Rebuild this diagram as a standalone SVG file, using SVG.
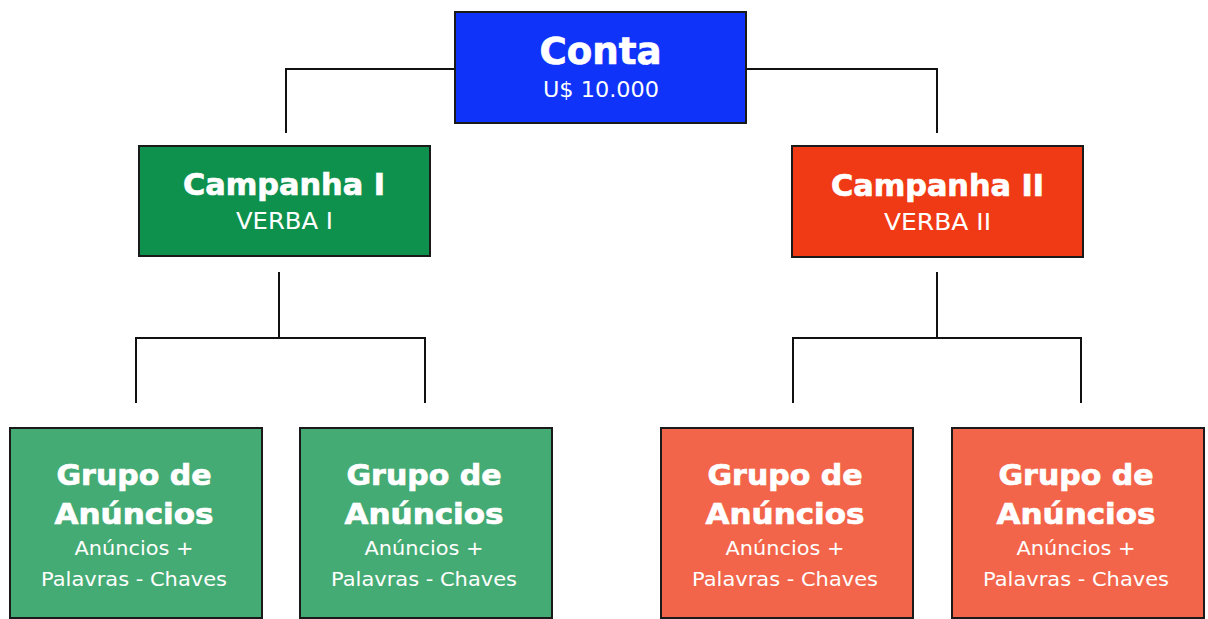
<svg xmlns="http://www.w3.org/2000/svg" width="1208" height="619" viewBox="0 0 1208 619">
<style>
.box{stroke:#1a1a1a;stroke-width:2}
.t{font-family:"DejaVu Sans","Liberation Sans",sans-serif;fill:#fff;text-anchor:middle}
.b{font-weight:bold;stroke:#fff;stroke-width:0.7}
.conn{fill:none;stroke:#111;stroke-width:2}
</style>
<rect width="1208" height="619" fill="#fff"/>
<g id="connectors">
<polyline class="conn" points="454,69 286,69 286,133"/>
<polyline class="conn" points="746,69 937,69 937,133"/>
<line class="conn" x1="279" y1="272" x2="279" y2="338"/>
<polyline class="conn" points="136,403 136,338 425,338 425,403"/>
<line class="conn" x1="937" y1="272" x2="937" y2="338"/>
<polyline class="conn" points="793,403 793,338 1081,338 1081,403"/>
</g>
<g id="conta">
<rect class="box" x="455" y="12" width="291" height="111" fill="#1033fa"/>
<text class="t b" x="600.5" y="64" font-size="37" textLength="122" lengthAdjust="spacingAndGlyphs">Conta</text>
<text class="t" x="601" y="97" font-size="22" textLength="116" lengthAdjust="spacingAndGlyphs">U$ 10.000</text>
</g>
<g id="campanha1">
<rect class="box" x="139" y="146" width="291" height="110" fill="#0f914e"/>
<text class="t b" x="284" y="195" font-size="30" textLength="202" lengthAdjust="spacingAndGlyphs">Campanha I</text>
<text class="t" x="284.5" y="229" font-size="23" textLength="97" lengthAdjust="spacingAndGlyphs">VERBA I</text>
</g>
<g id="campanha2">
<rect class="box" x="792" y="146" width="291" height="111" fill="#f03a15"/>
<text class="t b" x="937.5" y="196" font-size="30" textLength="213" lengthAdjust="spacingAndGlyphs">Campanha II</text>
<text class="t" x="937.5" y="230" font-size="23" textLength="107" lengthAdjust="spacingAndGlyphs">VERBA II</text>
</g>
<g id="grupo1">
<rect class="box" x="10" y="428" width="252" height="190" fill="#45ab74"/>
<text class="t b" x="134" y="485" font-size="28" textLength="155" lengthAdjust="spacingAndGlyphs">Grupo de</text>
<text class="t b" x="134" y="524" font-size="28" textLength="159" lengthAdjust="spacingAndGlyphs">Anúncios</text>
<text class="t" x="134" y="555" font-size="19.5" textLength="119" lengthAdjust="spacingAndGlyphs">Anúncios +</text>
<text class="t" x="134" y="586" font-size="19.5" textLength="186" lengthAdjust="spacingAndGlyphs">Palavras - Chaves</text>
</g>
<g id="grupo2">
<rect class="box" x="300" y="428" width="252" height="190" fill="#45ab74"/>
<text class="t b" x="424" y="485" font-size="28" textLength="155" lengthAdjust="spacingAndGlyphs">Grupo de</text>
<text class="t b" x="424" y="524" font-size="28" textLength="159" lengthAdjust="spacingAndGlyphs">Anúncios</text>
<text class="t" x="424" y="555" font-size="19.5" textLength="119" lengthAdjust="spacingAndGlyphs">Anúncios +</text>
<text class="t" x="424" y="586" font-size="19.5" textLength="186" lengthAdjust="spacingAndGlyphs">Palavras - Chaves</text>
</g>
<g id="grupo3">
<rect class="box" x="661" y="428" width="252" height="190" fill="#f2654a"/>
<text class="t b" x="785" y="485" font-size="28" textLength="155" lengthAdjust="spacingAndGlyphs">Grupo de</text>
<text class="t b" x="785" y="524" font-size="28" textLength="159" lengthAdjust="spacingAndGlyphs">Anúncios</text>
<text class="t" x="785" y="555" font-size="19.5" textLength="119" lengthAdjust="spacingAndGlyphs">Anúncios +</text>
<text class="t" x="785" y="586" font-size="19.5" textLength="186" lengthAdjust="spacingAndGlyphs">Palavras - Chaves</text>
</g>
<g id="grupo4">
<rect class="box" x="952" y="428" width="252" height="190" fill="#f2654a"/>
<text class="t b" x="1076" y="485" font-size="28" textLength="155" lengthAdjust="spacingAndGlyphs">Grupo de</text>
<text class="t b" x="1076" y="524" font-size="28" textLength="159" lengthAdjust="spacingAndGlyphs">Anúncios</text>
<text class="t" x="1076" y="555" font-size="19.5" textLength="119" lengthAdjust="spacingAndGlyphs">Anúncios +</text>
<text class="t" x="1076" y="586" font-size="19.5" textLength="186" lengthAdjust="spacingAndGlyphs">Palavras - Chaves</text>
</g>
</svg>
